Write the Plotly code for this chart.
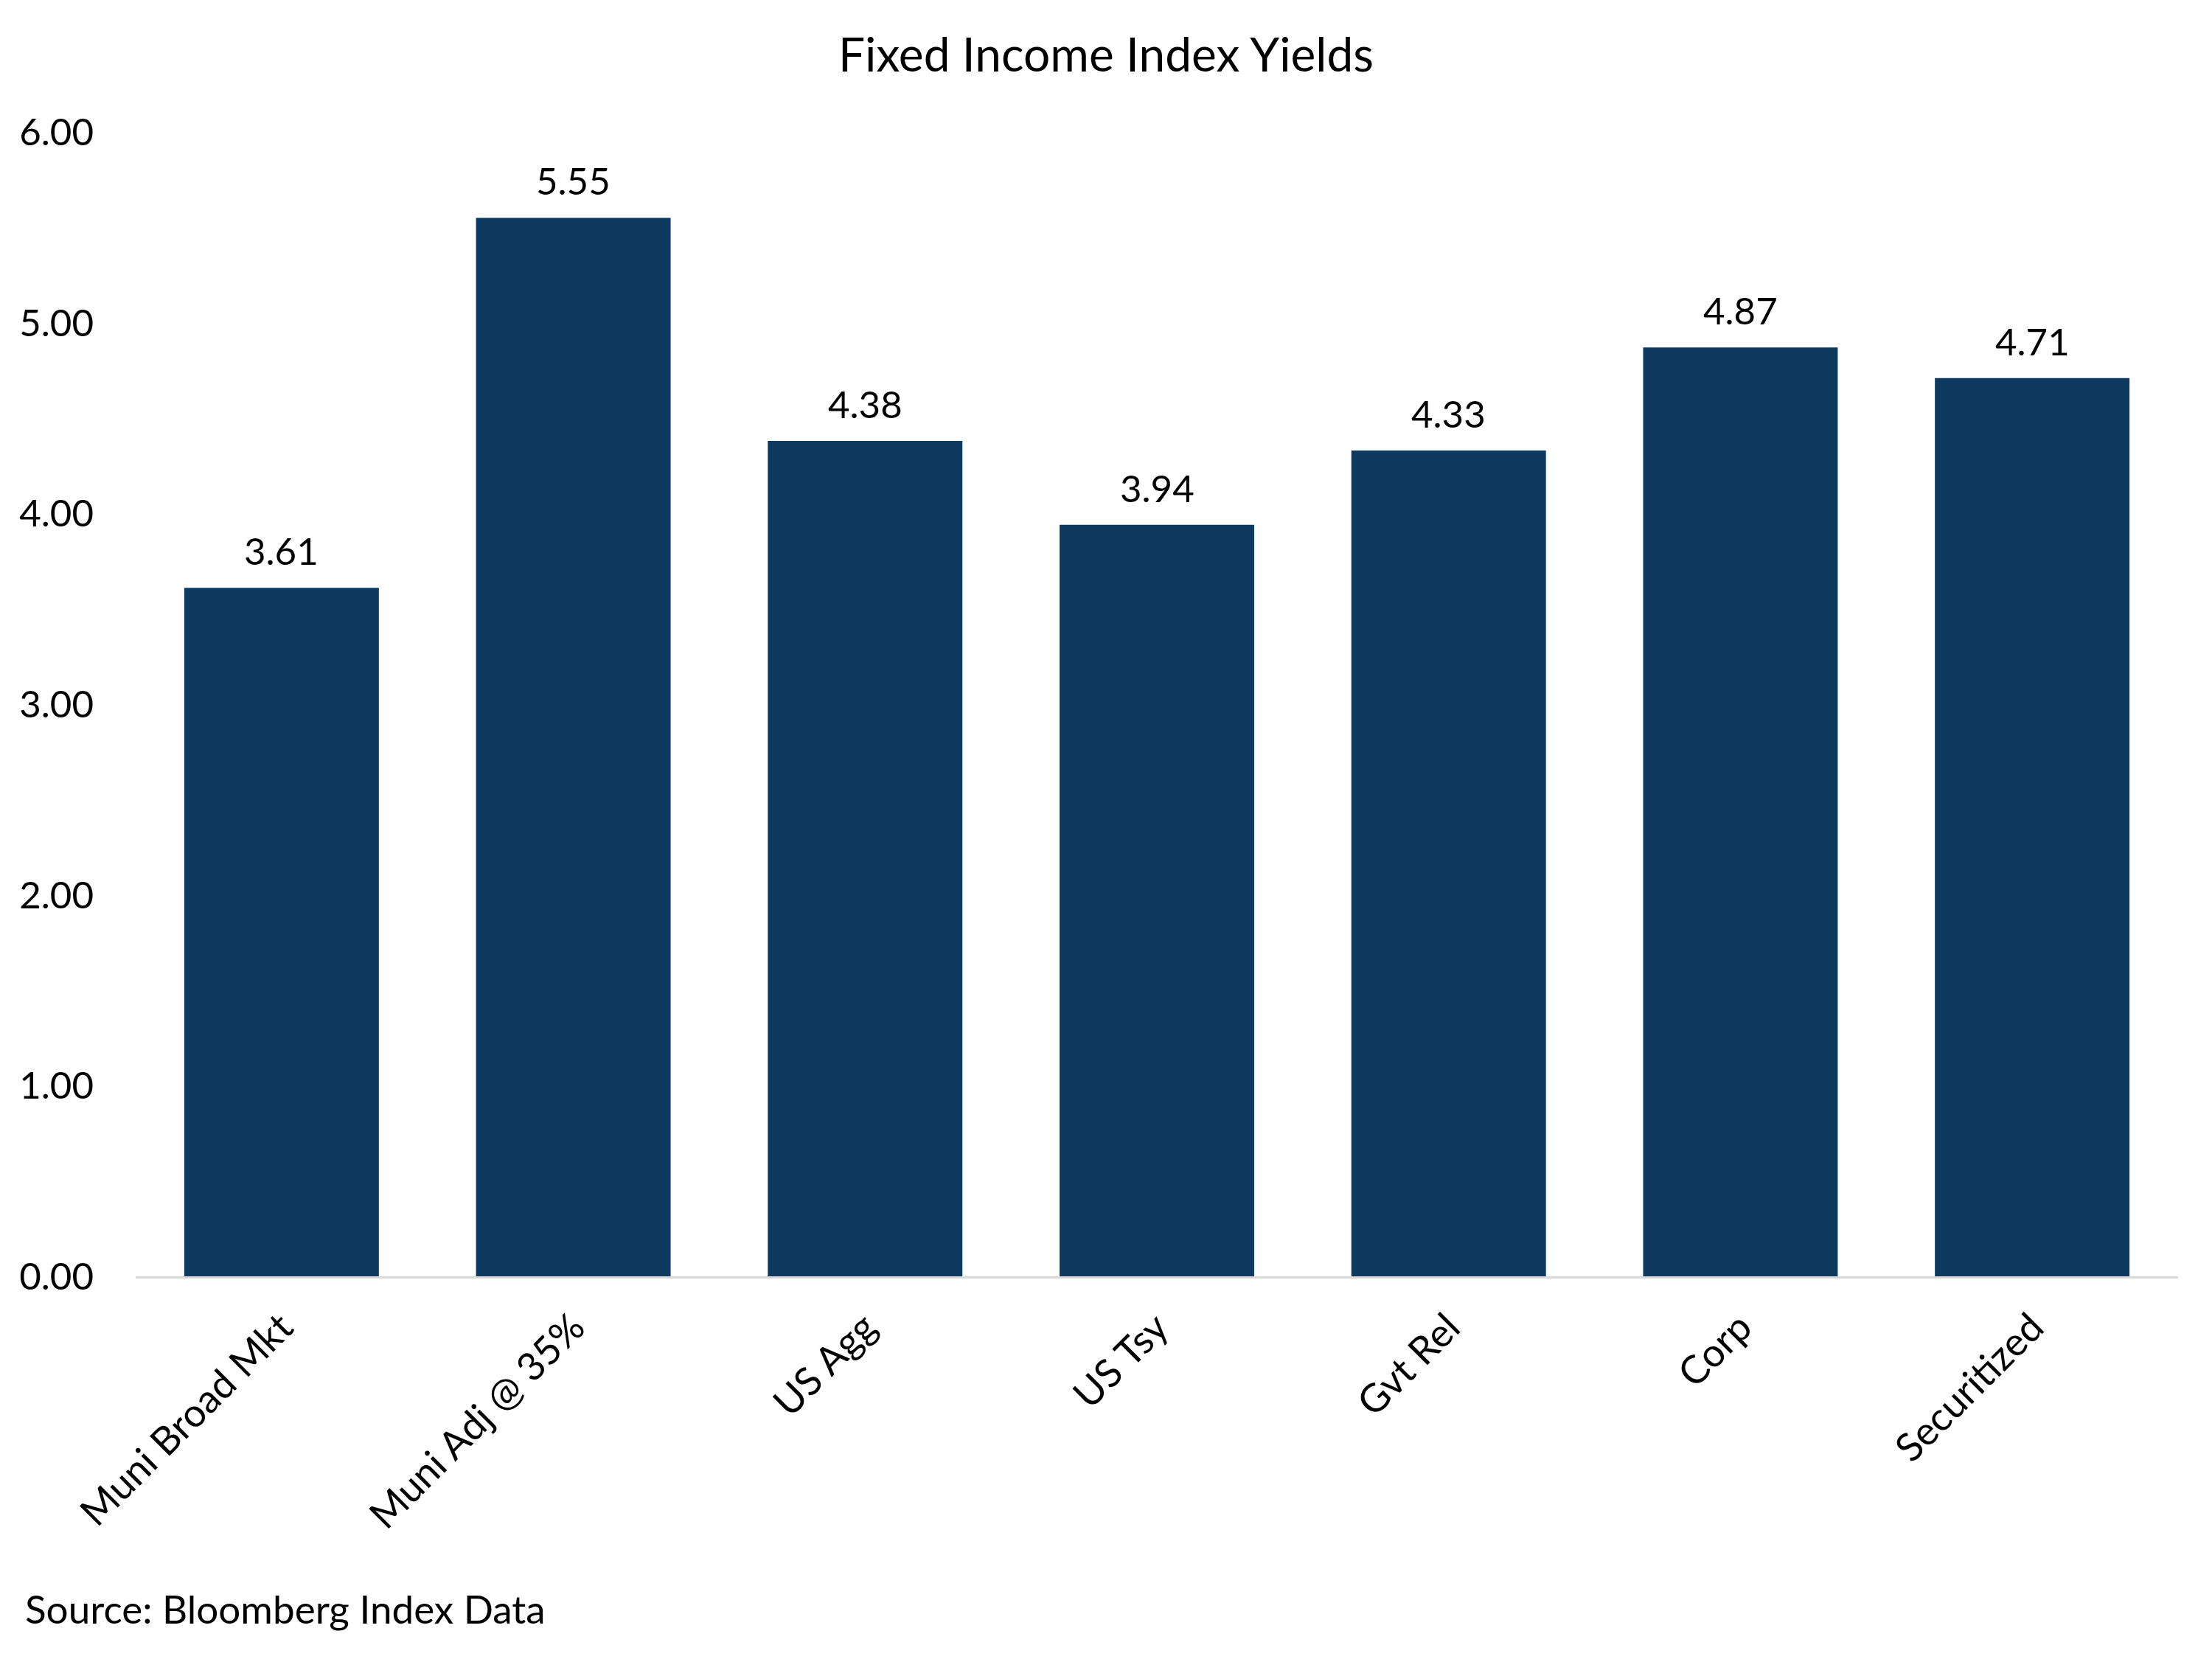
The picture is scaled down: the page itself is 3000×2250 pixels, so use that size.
import plotly.graph_objects as go

categories = ["Muni Broad Mkt", "Muni Adj @ 35%", "US Agg", "US Tsy", "Gvt Rel", "Corp", "Securitized"]
yields = [3.61, 5.55, 4.38, 3.94, 4.33, 4.87, 4.71]
y_ticks = [0, 1, 2, 3, 4, 5, 6]
y_tick_labels = ["0.00", "1.00", "2.00", "3.00", "4.00", "5.00", "6.00"]

FONT = "Lato"
BAR = "#0d3a5e"

fig = go.Figure()
fig.add_trace(go.Bar(x=categories, y=yields, marker=dict(color=BAR, line=dict(width=0)),
                     hoverinfo="skip"))

for c, v in zip(categories, yields):
    fig.add_annotation(x=c, y=v, text=f"{v:.2f}", showarrow=False, yanchor="bottom",
                       yshift=18, font=dict(family=FONT, size=51, color="#000000"))

fig.add_annotation(x=(32 - 184) / 2770, y=-0.29, xref="paper", yref="paper", xanchor="left",
                   yanchor="middle", text="Source: Bloomberg Index Data", showarrow=False,
                   font=dict(family=FONT, size=53, color="#000000"))

fig.update_layout(
    width=3000, height=2250,
    margin=dict(l=184, r=46, t=179, b=519, autoexpand=False),
    paper_bgcolor="white", plot_bgcolor="white",
    bargap=0.333,
    showlegend=False,
    title=dict(text="Fixed Income Index Yields", x=0.5, xref="container", xanchor="center",
               y=1 - 75 / 2250, yref="container", yanchor="middle",
               font=dict(family=FONT, size=64, color="#000000")),
    xaxis=dict(range=[-0.5, 6.5], showgrid=False, showline=True, linecolor="#d9d9d9", linewidth=3,
               ticks="", tickangle=-45, ticklabelstandoff=14,
               tickfont=dict(family=FONT, size=53, color="#000000"), zeroline=False),
    yaxis=dict(range=[0, 6], tickvals=y_ticks, ticktext=y_tick_labels, showgrid=False,
               showline=False, zeroline=False, ticks="", ticklabelstandoff=56,
               tickfont=dict(family=FONT, size=51, color="#000000")),
)

fig.write_html("out.html", config={"displayModeBar": False},
               post_script="document.body.style.margin='0';")
